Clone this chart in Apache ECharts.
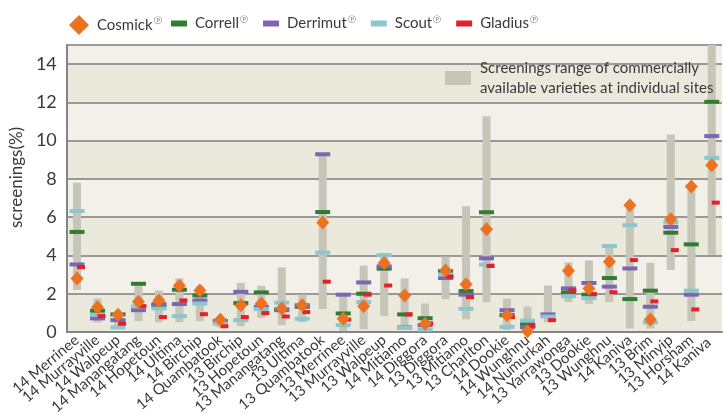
<!DOCTYPE html>
<html>
<head>
<meta charset="utf-8">
<script src="https://cdn.jsdelivr.net/npm/echarts@6/dist/echarts.min.js"></script>
<style>
  html, body { margin: 0; padding: 0; background: #fff; }
  #chart { width: 724px; height: 419px; }
</style>
</head>
<body>
<div id="chart"></div>
<script>
var sites = ['14 Merrinee', '14 Murrayville', '14 Walpeup', '14 Manangatang', '14 Hopetoun', '14 Ultima',
  '14 Birchip', '14 Quambatook', '13 Birchip', '13 Hopetoun', '13 Manangatang', '13 Ultima',
  '13 Quambatook', '13 Merrinee', '13 Murrayville', '13 Walpeup', '14 Mitiamo', '14 Diggora',
  '13 Diggora', '13 Mitiamo', '13 Charlton', '14 Dookie', '14 Wunghnu', '14 Numurkah',
  '13 Yarrawonga', '13 Dookie', '13 Wunghnu', '14 Kaniva', '13 Brim', '13 Minyip', '13 Horsham', '14 Kaniva '];

// screenings range of commercially available varieties
var rangeMin = [2.2, 0.5, 0.15, 0.57, 0.51, 0.51, 0.57, 0.25, 0.3, 0.74, 0.36, 0.51, 1.2, 0.05, 0.15, 0.83,
  0.2, 0.05, 1.72, 0.67, 1.56, 0.1, 0.02, 0.51, 1.56, 1.46, 1.56, 0.18, 0.18, 3.24, 0.57, 4.04];
var rangeMax = [7.8, 1.75, 0.95, 2.5, 2.17, 2.8, 2.4, 0.8, 2.57, 2.42, 3.38, 1.96, 9.3, 1.95, 3.47, 4.0,
  2.8, 1.49, 3.94, 6.57, 11.28, 1.75, 1.33, 2.43, 3.64, 3.74, 4.5, 6.62, 3.62, 10.32, 7.6, 15];

var cosmick = [2.8, 1.3, 0.9, 1.58, 1.65, 2.42, 2.17, 0.64, 1.4, 1.49, 1.23, 1.4, 5.72, 0.69, 1.35, 3.6,
  1.91, 0.43, 3.22, 2.5, 5.37, 0.88, 0.04, null, 3.2, 2.28, 3.67, 6.62, 0.65, 5.89, 7.6, 8.72];
var correll = [5.23, 1.11, 0.92, 2.52, 1.37, 2.21, 1.91, 0.58, 1.51, 2.07, 1.18, 1.32, 6.27, 0.97, 2.0, 3.31,
  0.92, 0.72, 3.18, 2.14, 6.26, 0.88, 0.43, null, 2.07, 1.95, 2.82, 1.72, 2.16, 5.19, 4.58, 12.03];
var derrimut = [3.53, 0.71, 0.62, 1.14, 1.46, 1.46, 1.65, 0.57, 2.1, 1.32, 1.14, 1.4, 9.29, 1.95, 2.59, 3.43,
  0.24, 0.36, 2.82, 1.95, 3.85, 1.14, 0.25, 0.92, 2.28, 2.56, 2.37, 3.32, 1.32, 5.49, 1.95, 10.24];
var scout = [6.32, 0.9, 0.24, 1.34, 1.23, 0.83, 1.49, 0.44, 0.62, 1.2, 1.53, 0.69, 4.15, 0.36, 1.56, 4.02,
  0.22, 0.13, 3.01, 1.21, 3.52, 0.27, 0.59, 0.81, 1.87, 1.77, 4.49, 5.58, 0.5, 5.73, 2.16, 9.1];
var gladius = [3.39, 0.83, 0.43, 1.35, 0.78, 1.65, 0.93, 0.3, 0.78, 0.99, 0.81, 1.04, 2.63, 0.65, 1.95, 2.43,
  0.92, 0.45, 2.9, 1.82, 3.45, 0.78, 0.32, 0.62, 2.17, 1.98, 2.08, 3.76, 1.6, 4.28, 1.18, 6.76];

var rangeName = 'Screenings range of commercially available varieties at individual sites';
var font = 'Lato';

var rangeSpan = rangeMax.map(function (v, i) { return +(v - rangeMin[i]).toFixed(2); });

function sup(name) { return name + '{s|Ⓟ}'; }
var legendText = {
  fontFamily: font, fontSize: 15, color: '#3a3a3a', padding: [0, 0, 0, 3],
  rich: { s: { fontFamily: font, fontSize: 8, color: '#777', padding: [0, 0, 9, 1] } }
};

function dash(name, data, color, size, offset, z) {
  return {
    name: name, type: 'scatter', data: data, symbol: 'rect', symbolSize: size,
    symbolOffset: offset, z: z, itemStyle: { color: color, opacity: 1 }
  };
}

var chart = echarts.init(document.getElementById('chart'));
chart.setOption({
  animation: false,
  grid: { left: 63, right: 2, top: 45, bottom: 87, containLabel: false },
  legend: [
    {
      data: ['Cosmick'], left: 64, top: 10, icon: 'diamond', itemWidth: 20, itemHeight: 20,
      formatter: sup, textStyle: legendText
    },
    {
      data: ['Correll', 'Derrimut', 'Scout', 'Gladius'], left: 166, top: 10, icon: 'rect',
      itemWidth: 16, itemHeight: 6, itemGap: 15, formatter: sup, textStyle: legendText
    },
    {
      data: [rangeName], left: 440, top: 43, icon: 'rect', itemWidth: 26, itemHeight: 14,
      formatter: 'Screenings range of commercially\navailable varieties at individual sites',
      textStyle: { fontFamily: font, fontSize: 15, color: '#3a3a3a', lineHeight: 20, padding: [20, 0, 0, 4] }
    }
  ],
  xAxis: {
    type: 'category', data: sites,
    axisLine: { lineStyle: { color: '#858585', width: 2 } },
    axisTick: { show: false },
    axisLabel: { interval: 0, rotate: 40, margin: 6, fontFamily: font, fontSize: 15, color: '#3a3a3a' }
  },
  yAxis: {
    type: 'value', min: 0, max: 15, interval: 2,
    name: 'screenings(%)', nameLocation: 'middle', nameGap: 36,
    nameTextStyle: { fontFamily: font, fontSize: 17, color: '#3a3a3a', padding: [0, 0, 0, 22] },
    axisLine: { show: true, lineStyle: { color: '#858585', width: 2 } },
    axisTick: { show: false },
    axisLabel: { showMaxLabel: false, margin: 10, fontFamily: font, fontSize: 18, color: '#3a3a3a' },
    splitLine: { lineStyle: { color: '#7d7d7d', width: 1.5 } },
    splitArea: { show: true, areaStyle: { color: ['#ebe8dc', '#f3f0e9'] } }
  },
  series: [
    {
      name: 'base', type: 'bar', stack: 'range', data: rangeMin, barWidth: 8, silent: true,
      itemStyle: { color: 'rgba(0,0,0,0)' }
    },
    {
      name: rangeName, type: 'bar', stack: 'range', data: rangeSpan, barWidth: 8,
      itemStyle: { color: '#c5c5b8' }
    },
    dash('Correll', correll, '#2f7c32', [15, 4], [0, 0], 3),
    dash('Derrimut', derrimut, '#7a66b3', [15, 4], [0, 0], 4),
    dash('Scout', scout, '#8dc6cf', [15, 4], [0, 0], 5),
    dash('Gladius', gladius, '#e5202b', [8, 4], [4, 0], 6),
    {
      name: 'Cosmick', type: 'scatter', data: cosmick, symbol: 'diamond', symbolSize: [13, 14], z: 7,
      itemStyle: { color: '#ec7120', opacity: 1 }
    }
  ]
});
</script>
</body>
</html>
